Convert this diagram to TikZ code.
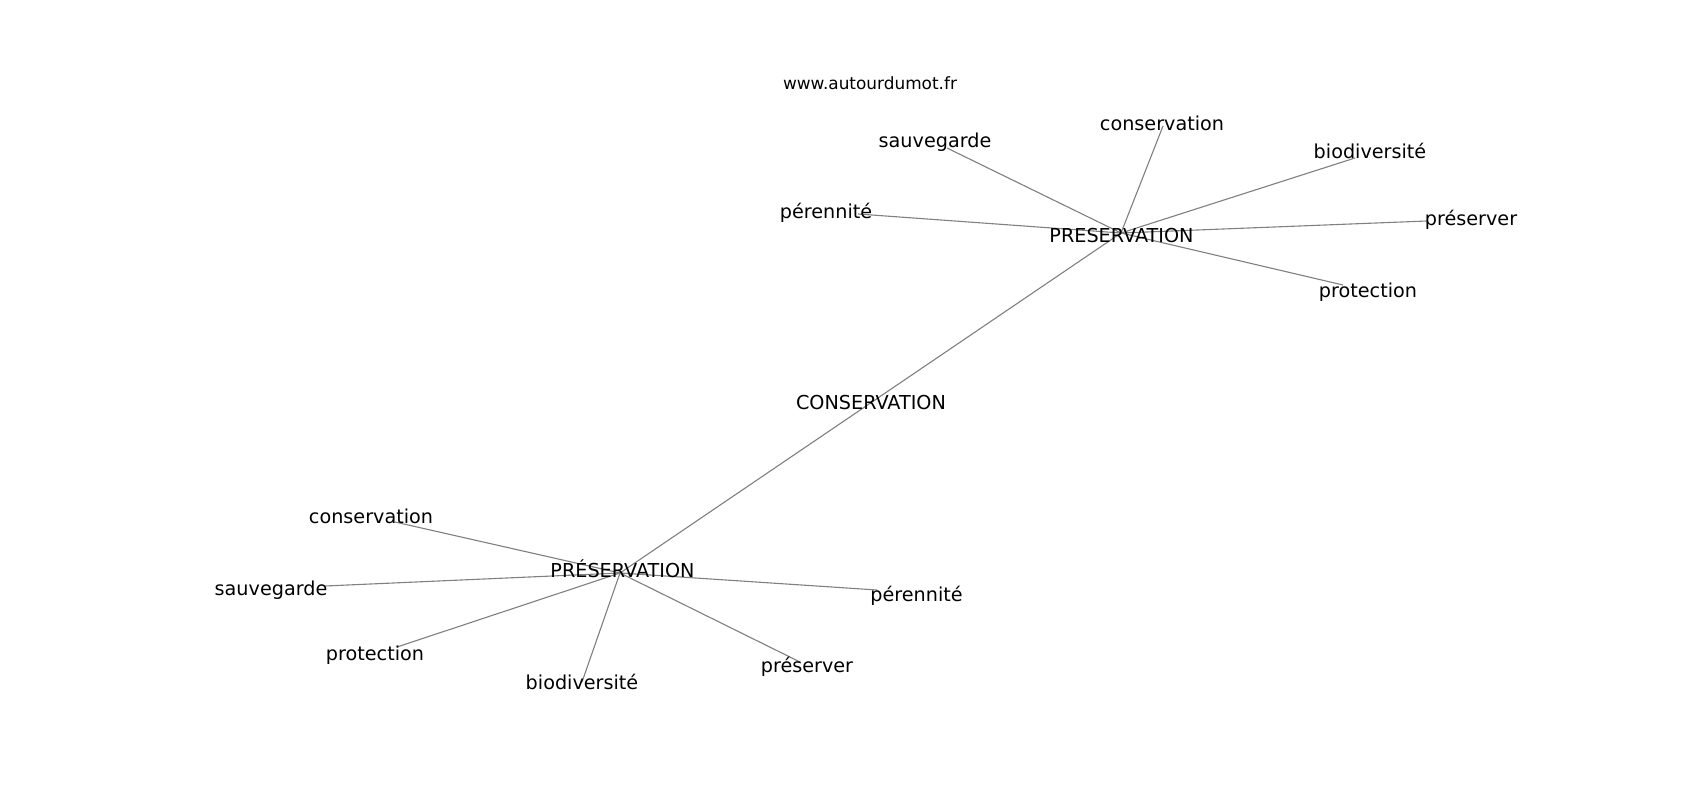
\documentclass[tikz,border=0pt]{standalone}
\usepackage{fontspec}
\setmainfont{DejaVu Sans}
\begin{document}
\begin{tikzpicture}[x=1pt,y=-1pt,
  lbl/.style={anchor=base,inner sep=0pt,text=black,font=\fontsize{19.2}{22}\selectfont},
  urllbl/.style={anchor=base,inner sep=0pt,text=black,font=\fontsize{16.9}{20}\selectfont},
  edgeline/.style={draw=black!50,line width=1.1pt}]
\useasboundingbox[fill=white] (0,0) rectangle (1700,800);
% graph vertices
\coordinate (H1) at (1121,233);
\coordinate (tcons) at (1163,126);
\coordinate (tsauv) at (947,148);
\coordinate (tbio) at (1355,158);
\coordinate (tpres) at (1427,221);
\coordinate (tper) at (858,214);
\coordinate (tprot) at (1343,285);
\coordinate (C) at (872,402);
\coordinate (H2) at (620,573);
\coordinate (bcons) at (395,522);
\coordinate (bsauv) at (325,586);
\coordinate (bprot) at (397,647);
\coordinate (bbio) at (582,682);
\coordinate (bpres) at (800,662);
\coordinate (bper) at (877,590);
% edges
\draw[edgeline] (H1) -- (tcons);
\draw[edgeline] (H1) -- (tsauv);
\draw[edgeline] (H1) -- (tbio);
\draw[edgeline] (H1) -- (tpres);
\draw[edgeline] (H1) -- (tper);
\draw[edgeline] (H1) -- (tprot);
\draw[edgeline] (H1) -- (C);
\draw[edgeline] (C) -- (H2);
\draw[edgeline] (H2) -- (bcons);
\draw[edgeline] (H2) -- (bsauv);
\draw[edgeline] (H2) -- (bprot);
\draw[edgeline] (H2) -- (bbio);
\draw[edgeline] (H2) -- (bpres);
\draw[edgeline] (H2) -- (bper);
% labels
\node[urllbl] (url) at (870,89) {www.autourdumot.fr};
\node[lbl] (lH1) at (1121.5,242) {PRESERVATION};
\node[lbl] (ltcons) at (1162,130) {conservation};
\node[lbl] (ltsauv) at (935,147) {sauvegarde};
\node[lbl] (ltbio) at (1370,158) {biodiversité};
\node[lbl] (ltpres) at (1471,225) {préserver};
\node[lbl] (ltper) at (826,218) {pérennité};
\node[lbl] (ltprot) at (1368,297) {protection};
\node[lbl] (lC) at (871,409) {CONSERVATION};
\node[lbl] (lH2) at (622.5,577) {PRÉSERVATION};
\node[lbl] (lbcons) at (371,523) {conservation};
\node[lbl] (lbsauv) at (271,595) {sauvegarde};
\node[lbl] (lbprot) at (375,660) {protection};
\node[lbl] (lbbio) at (582,689) {biodiversité};
\node[lbl] (lbpres) at (807,672) {préserver};
\node[lbl] (lbper) at (916.5,601) {pérennité};
\end{tikzpicture}
\end{document}
